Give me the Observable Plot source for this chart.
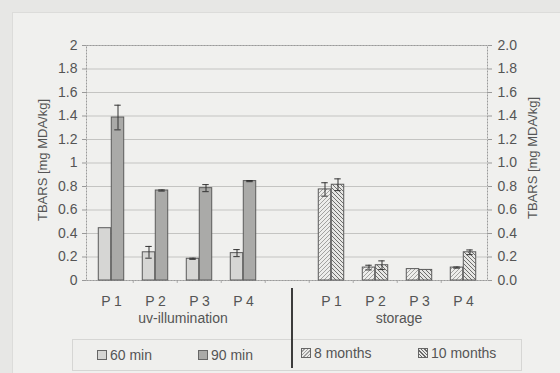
<!DOCTYPE html>
<html>
<head>
<meta charset="utf-8">
<script src="https://cdn.jsdelivr.net/npm/d3@7"></script>
<script src="https://cdn.jsdelivr.net/npm/@observablehq/plot@0.6"></script>
<style>
  html, body { margin: 0; padding: 0; background: #e7e7e5; }
  #wrap { position: relative; width: 560px; height: 373px; overflow: hidden; font-family: "Liberation Sans", Arial, sans-serif; color: #555; }
  #panel { position: absolute; left: 12px; top: 12px; width: 560px; height: 373px; background: #f0f0ee; border-left: 1px solid #dcdcda; border-top: 1px solid #dcdcda; }
  #chart { position: absolute; left: 0; top: 0; }
  .lab { position: absolute; font-size: 14px; color: #555; white-space: nowrap; transform: translate(-50%, -50%); }
  .ylab { position: absolute; font-size: 13px; color: #555; white-space: nowrap; transform: translate(-50%, -50%) rotate(-90deg); }
  #legend { position: absolute; left: 72px; top: 339px; width: 448px; height: 30px; border: 1px solid #d6d6d4; background: #efefed; }
  .li { position: absolute; top: 7px; font-size: 14px; color: #555; display: flex; align-items: center; white-space: nowrap; }
  .sw { width: 8px; height: 8px; border: 1px solid #666; margin-right: 3px; }
  #sep { position: absolute; left: 291px; top: 288px; width: 2px; height: 80px; background: #3c3c3c; }
</style>
</head>
<body>
<div id="wrap">
  <div id="panel"></div>
  <div id="chart"></div>
  <div class="ylab" style="left:42px; top:160px;">TBARS [mg MDA/kg]</div>
  <div class="ylab" style="left:532px; top:158px;">TBARS [mg MDA/kg]</div>
  <div class="lab" style="left:183px; top:318px;">uv-illumination</div>
  <div class="lab" style="left:399px; top:318px;">storage</div>
  <div id="legend">
    <div class="li" style="left:24px;"><div class="sw" style="background:#d6d6d4"></div>60 min</div>
    <div class="li" style="left:125px;"><div class="sw" style="background:#aaaaa8"></div>90 min</div>
    <div class="li" style="left:228px; top:5px;"><div class="sw" style="background:repeating-linear-gradient(-45deg,#ececea 0 1.5px,#a0a0a0 1.5px 2.5px)"></div>8 months</div>
    <div class="li" style="left:345px; top:5px;"><div class="sw" style="background:repeating-linear-gradient(45deg,#e8e8e6 0 1.5px,#6a6a6a 1.5px 2.5px)"></div>10 months</div>
  </div>
  <div id="sep"></div>
</div>
<script>
// ---- data ----
const categories = ["uP1", "uP2", "uP3", "uP4", "gap", "sP1", "sP2", "sP3", "sP4"];
const categoryLabels = ["P 1", "P 2", "P 3", "P 4", "", "P 1", "P 2", "P 3", "P 4"];
const uvCategories = ["uP1", "uP2", "uP3", "uP4"];
const storageCategories = ["sP1", "sP2", "sP3", "sP4"];
const min60 = [0.445, 0.24, 0.185, 0.233];
const min60Err = [0, 0.05, 0.005, 0.03];
const min90 = [1.387, 0.766, 0.786, 0.846];
const min90Err = [0.105, 0.005, 0.03, 0.005];
const months8 = [0.775, 0.11, 0.097, 0.11];
const months8Err = [0.057, 0.02, 0, 0.005];
const months10 = [0.815, 0.13, 0.09, 0.24];
const months10Err = [0.05, 0.037, 0, 0.02];
const yTicks = [0, 0.2, 0.4, 0.6, 0.8, 1, 1.2, 1.4, 1.6, 1.8, 2];

// ---- layout ----
const W = 560, H = 373, mL = 86, mR = 73, mT = 45, mB = 93;
const band = (W - mL - mR) / categories.length;
const bw = 13;
const outer = (band - 2 * bw) / 2;
const cap = 3.5;

const rows = (cats, v, e) => cats.map((c, i) => ({cat: c, v: v[i], e: e[i]}));
const d60 = rows(uvCategories, min60, min60Err);
const d90 = rows(uvCategories, min90, min90Err);
const d8 = rows(storageCategories, months8, months8Err);
const d10 = rows(storageCategories, months10, months10Err);

function bars(data, fill, left) {
  return Plot.barY(data, {
    x: "cat", y: "v", fill, stroke: "#5a5a5a", strokeWidth: 1,
    insetLeft: left ? outer : outer + bw,
    insetRight: left ? outer + bw : outer
  });
}
function errs(data, left) {
  const d = data.filter(r => r.e > 0);
  const c = left ? outer + bw / 2 : outer + bw + bw / 2;
  const ins = {insetLeft: c - cap, insetRight: band - c - cap};
  return [
    Plot.ruleX(d, {x: "cat", y1: r => r.v - r.e, y2: r => r.v + r.e, dx: left ? -bw / 2 : bw / 2, stroke: "#333", strokeWidth: 1}),
    Plot.tickY(d, {x: "cat", y: r => r.v + r.e, ...ins, stroke: "#333", strokeWidth: 1}),
    Plot.tickY(d, {x: "cat", y: r => r.v - r.e, ...ins, stroke: "#333", strokeWidth: 1})
  ];
}

const chart = Plot.plot({
  width: W, height: H,
  marginLeft: mL, marginRight: mR, marginTop: mT, marginBottom: mB,
  style: {background: "transparent", fontFamily: "Liberation Sans, Arial, sans-serif", fontSize: "14px", color: "#555"},
  x: {type: "band", domain: categories, paddingInner: 0, paddingOuter: 0},
  y: {domain: [0, 2]},
  marks: [
    Plot.gridY(yTicks, {stroke: "#c4c4c2", strokeOpacity: 1}),
    Plot.ruleX(categories.slice(1), {x: d => d, dx: -band / 2, y1: 0, y2: -0.025, stroke: "#aaa"}),
    Plot.frame({stroke: "#9a9a9a", strokeDasharray: "2,1"}),
    Plot.axisY(yTicks, {anchor: "left", tickSize: 4, tickPadding: 5, tickFormat: d => String(d), stroke: "#999", label: null, fontSize: 14}),
    Plot.axisY(yTicks, {anchor: "right", tickSize: 4, tickPadding: 6, tickFormat: d => d.toFixed(1), stroke: "#999", label: null, fontSize: 14}),
    Plot.axisX({tickSize: 0, tickPadding: 16, tickFormat: d => categoryLabels[categories.indexOf(d)], label: null, fontSize: 14}),
    bars(d60, "#d6d6d4", true),
    bars(d90, "#aaaaa8", false),
    bars(d8, "url(#h8)", true),
    bars(d10, "url(#h10)", false),
    ...errs(d60, true), ...errs(d90, false), ...errs(d8, true), ...errs(d10, false)
  ]
});

const defs = d3.select(chart).insert("defs", ":first-child");
const p8 = defs.append("pattern").attr("id", "h8").attr("patternUnits", "userSpaceOnUse").attr("width", 4).attr("height", 4);
p8.append("rect").attr("width", 4).attr("height", 4).attr("fill", "#ededeb");
p8.append("path").attr("d", "M-1,1 l2,-2 M0,4 l4,-4 M3,5 l2,-2").attr("stroke", "#a2a2a0").attr("stroke-width", 1);
const p10 = defs.append("pattern").attr("id", "h10").attr("patternUnits", "userSpaceOnUse").attr("width", 4).attr("height", 4);
p10.append("rect").attr("width", 4).attr("height", 4).attr("fill", "#e6e6e4");
p10.append("path").attr("d", "M-1,3 l2,2 M0,0 l4,4 M3,-1 l2,2").attr("stroke", "#6e6e6c").attr("stroke-width", 1);

document.getElementById("chart").appendChild(chart);
</script>
</body>
</html>
